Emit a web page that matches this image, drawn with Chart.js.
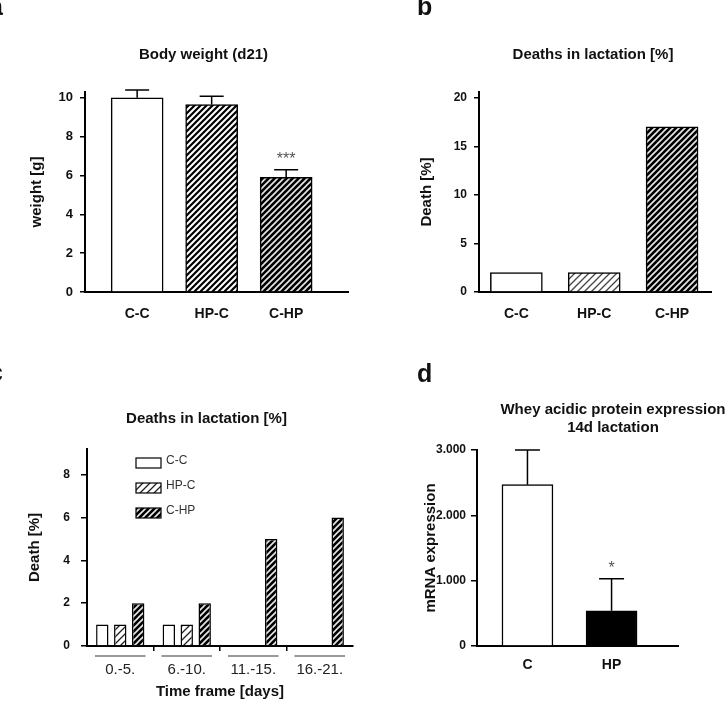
<!DOCTYPE html>
<html lang="en">
<head>
<meta charset="UTF-8">
<title>Body weight, deaths in lactation and WAP expression</title>
<script src="https://cdn.jsdelivr.net/npm/chart.js"></script>
<style>
  html, body { margin: 0; padding: 0; background: #fff; overflow: hidden; }
  body { width: 727px; height: 707px; position: relative; font-family: "Liberation Sans", Arial, sans-serif; }
  .panel { position: absolute; }
  .letter { position: absolute; font-weight: bold; font-size: 25px; line-height: 25px; color: #111; z-index: 2; }
</style>
</head>
<body>
<div class="letter" style="left:-11px; top:-6px;">a</div>
<div class="letter" style="left:417px; top:-6px;">b</div>
<div class="letter" style="left:-11px; top:360px;">c</div>
<div class="letter" style="left:417px; top:361px;">d</div>

<div class="panel" style="left:0; top:0; width:407px; height:350px;"><canvas id="chartA"></canvas></div>
<div class="panel" style="left:393px; top:0; width:400px; height:350px;"><canvas id="chartB"></canvas></div>
<div class="panel" style="left:0; top:360px; width:413px; height:347px;"><canvas id="chartC"></canvas></div>
<div class="panel" style="left:413px; top:360px; width:400px; height:347px;"><canvas id="chartD"></canvas></div>

<script>
// a: body weight at d21
const groups = ['C-C', 'HP-C', 'C-HP'];
const weightMean = [10.0, 9.65, 5.9];
const weightSem = [0.4, 0.43, 0.4];
const weightStars = ['', '', '***'];

// b: total deaths in lactation
const deathTotal = [2, 2, 17];

// c: deaths per time frame
const timeFrames = ['0.-5.', '6.-10.', '11.-15.', '16.-21.'];
const deathCC = [1, 1, 0, 0];
const deathHPC = [1, 1, 0, 0];
const deathCHP = [2, 2, 5, 6];

// d: whey acidic protein expression, 14d lactation
const wapGroups = ['C', 'HP'];
const wapMean = [2470, 540];
const wapSem = [530, 490];
const wapStars = ['', '*'];

Chart.defaults.font.family = '"Liberation Sans", Arial, sans-serif';
Chart.defaults.color = '#111';

function stripes(bg, fg, size, width) {
    const c = document.createElement('canvas');
    c.width = size; c.height = size;
    const g = c.getContext('2d');
    g.fillStyle = bg;
    g.fillRect(0, 0, size, size);
    g.strokeStyle = fg;
    g.lineWidth = width;
    g.beginPath();
    g.moveTo(0, size); g.lineTo(size, 0);
    g.moveTo(-size / 2, size / 2); g.lineTo(size / 2, -size / 2);
    g.moveTo(size / 2, size * 1.5); g.lineTo(size * 1.5, size / 2);
    g.stroke();
    return g.createPattern(c, 'repeat');
}

// upper error bars + significance stars
const errorBars = {
    id: 'errorBars',
    afterDatasetsDraw(chart, args, opts) {
        if (!opts.sem) return;
        const ctx = chart.ctx;
        const y = chart.scales.y;
        const data = chart.data.datasets[0].data;
        ctx.save();
        chart.getDatasetMeta(0).data.forEach((bar, i) => {
            const top = y.getPixelForValue(data[i].y + opts.sem[i]);
            ctx.strokeStyle = '#000';
            ctx.lineWidth = 1.5;
            ctx.beginPath();
            ctx.moveTo(bar.x, bar.y);
            ctx.lineTo(bar.x, top);
            ctx.moveTo(bar.x - opts.cap / 2, top);
            ctx.lineTo(bar.x + opts.cap / 2, top);
            ctx.stroke();
            if (opts.stars && opts.stars[i]) {
                ctx.fillStyle = '#555';
                ctx.font = '16px "Liberation Sans", Arial, sans-serif';
                ctx.textAlign = 'center';
                ctx.textBaseline = 'alphabetic';
                ctx.fillText(opts.stars[i], bar.x, top - 6);
            }
        });
        ctx.restore();
    }
};

// underlines below the time frame labels and the little legend in panel c
const groupMarks = {
    id: 'groupMarks',
    afterDraw(chart) {
        const { ctx, chartArea } = chart;
        const x = chart.scales.x;
        ctx.save();
        ctx.strokeStyle = '#777';
        ctx.lineWidth = 1.5;
        const half = x.width / x.ticks.length * 0.38;
        x.ticks.forEach((t, i) => {
            const cx = x.getPixelForTick(i);
            ctx.beginPath();
            ctx.moveTo(cx - half, x.top + 10);
            ctx.lineTo(cx + half, x.top + 10);
            ctx.stroke();
        });
        chart.data.datasets.forEach((ds, i) => {
            const bx = chartArea.left + 49;
            const by = chartArea.top + 9 + i * 25;
            ctx.fillStyle = ds.backgroundColor;
            ctx.fillRect(bx, by, 25, 10);
            ctx.strokeStyle = '#000';
            ctx.lineWidth = 1.2;
            ctx.strokeRect(bx, by, 25, 10);
            ctx.fillStyle = '#333';
            ctx.font = '12px "Liberation Sans", Arial, sans-serif';
            ctx.textAlign = 'left';
            ctx.textBaseline = 'middle';
            ctx.fillText(ds.label, bx + 30, by + 3);
        });
        ctx.restore();
    }
};

function yAxis(o) {
    const ax = {
        min: 0, max: o.max,
        afterFit: s => { s.width = o.width; },
        border: { display: true, color: '#000', width: 2 },
        grid: { drawOnChartArea: false, drawTicks: true, tickLength: o.tick, color: '#000', lineWidth: 1.5 },
        ticks: { stepSize: o.step, includeBounds: false, padding: o.pad, color: '#111', font: { size: o.size || 12, weight: 'bold' } },
        title: { display: true, text: o.title, color: '#111', font: { size: 15, weight: 'bold' }, padding: { top: o.titlePad, bottom: 0 } }
    };
    if (o.fmt) ax.ticks.callback = o.fmt;
    return ax;
}

// empty right-hand axis, only reserves room so the title centres where it should
function spacer(width) {
    return {
        position: 'right', display: true,
        afterFit: s => { s.width = width; },
        border: { display: false },
        grid: { display: false, drawTicks: false },
        ticks: { display: false }
    };
}

function xGroups(labels, min, max, height, pad) {
    return {
        type: 'linear', offset: false, min: min, max: max,
        afterFit: s => { s.height = height; },
        border: { display: true, color: '#000', width: 2 },
        grid: { display: false, drawTicks: false },
        ticks: {
            stepSize: 1, includeBounds: false, autoSkip: false, maxRotation: 0, padding: pad,
            color: '#111', font: { size: 14, weight: 'bold' },
            callback: v => labels[v - 1] ?? ''
        }
    };
}

function titleOpts(text, top, bottom) {
    return { display: true, text: text, color: '#111', font: { size: 15, weight: 'bold' }, padding: { top: top, bottom: bottom } };
}

const asPoints = vals => vals.map((v, i) => ({ x: i + 1, y: v }));

// panel a
new Chart(document.getElementById('chartA'), {
    type: 'bar',
    data: {
        datasets: [{
            data: asPoints(weightMean),
            backgroundColor: ['#fff', stripes('#fff', '#000', 6, 2.2), stripes('#000', '#e8e8e8', 6, 1.6)],
            borderColor: '#000',
            borderWidth: 1.5,
            barThickness: 52
        }]
    },
    options: {
        responsive: true, maintainAspectRatio: false, animation: false,
        layout: { padding: 0 },
        plugins: {
            legend: { display: false },
            tooltip: { enabled: false },
            title: titleOpts('Body weight (d21)', 46, 28),
            errorBars: { sem: weightSem, stars: weightStars, cap: 24 }
        },
        scales: {
            x: xGroups(groups, 0.3, 3.83, 58, 14),
            y: yAxis({ max: 10.3, step: 2, width: 85, tick: 5, pad: 7, size: 13, title: 'weight [g]', titlePad: 28 }),
            yr: spacer(59)
        }
    },
    plugins: [errorBars]
});

// panel b
new Chart(document.getElementById('chartB'), {
    type: 'bar',
    data: {
        datasets: [{
            data: asPoints(deathTotal),
            backgroundColor: ['#fff', stripes('#fff', '#444', 7, 1.3), stripes('#000', '#e8e8e8', 6, 1.6)],
            borderColor: '#000',
            borderWidth: 1.5,
            barThickness: 52
        }]
    },
    options: {
        responsive: true, maintainAspectRatio: false, animation: false,
        layout: { padding: 0 },
        plugins: {
            legend: { display: false },
            tooltip: { enabled: false },
            title: titleOpts('Deaths in lactation [%]', 46, 28)
        },
        scales: {
            x: xGroups(groups, 0.52, 3.5, 58, 14),
            y: yAxis({ max: 20.6, step: 5, width: 86, tick: 5, pad: 7, title: 'Death [%]', titlePad: 25 }),
            yr: spacer(82)
        }
    }
});

// panel c
const patHPC = stripes('#fff', '#222', 7, 1.3);
const patCHP = stripes('#000', '#e8e8e8', 6, 1.6);
new Chart(document.getElementById('chartC'), {
    type: 'bar',
    data: {
        labels: timeFrames,
        datasets: [
            { label: 'C-C', data: deathCC, backgroundColor: '#fff' },
            { label: 'HP-C', data: deathHPC, backgroundColor: patHPC },
            { label: 'C-HP', data: deathCHP, backgroundColor: patCHP }
        ].map(d => Object.assign(d, { borderColor: '#000', borderWidth: 1.5, categoryPercentage: 0.81, barPercentage: 0.69 }))
    },
    options: {
        responsive: true, maintainAspectRatio: false, animation: false,
        layout: { padding: 0 },
        plugins: {
            legend: { display: false },
            tooltip: { enabled: false },
            title: titleOpts('Deaths in lactation [%]', 50, 21)
        },
        scales: {
            x: {
                type: 'category', offset: true,
                afterFit: s => { s.height = 61; },
                border: { display: true, color: '#000', width: 2 },
                grid: {
                    offset: true, drawOnChartArea: false, drawTicks: true, tickLength: 5, lineWidth: 1.5,
                    color: c => (c.index > 0 && c.index < timeFrames.length) ? '#000' : 'rgba(0,0,0,0)'
                },
                ticks: { padding: 10, color: '#222', font: { size: 15, weight: 'normal' }, maxRotation: 0, autoSkip: false },
                title: { display: true, text: 'Time frame [days]', color: '#111', font: { size: 15, weight: 'bold' }, padding: { top: 0, bottom: 6 } }
            },
            y: yAxis({ max: 9.2, step: 2, width: 87, tick: 6, pad: 11, title: 'Death [%]', titlePad: 26 }),
            yr: spacer(60)
        }
    },
    plugins: [groupMarks]
});

// panel d
new Chart(document.getElementById('chartD'), {
    type: 'bar',
    data: {
        datasets: [{
            data: asPoints(wapMean),
            backgroundColor: ['#fff', '#000'],
            borderColor: '#000',
            borderWidth: 1.5,
            barThickness: 51
        }]
    },
    options: {
        responsive: true, maintainAspectRatio: false, animation: false,
        layout: { padding: 0 },
        plugins: {
            legend: { display: false },
            tooltip: { enabled: false },
            title: titleOpts(['Whey acidic protein expression', '14d lactation'], 41, 13),
            errorBars: { sem: wapSem, stars: wapStars, cap: 25 }
        },
        scales: {
            x: xGroups(wapGroups, 0.4, 2.79, 61, 11),
            y: yAxis({
                max: 3000, step: 1000, width: 64, tick: 6, pad: 5, title: 'mRNA expression', titlePad: 9,
                fmt: v => String(v).replace(/\B(?=(\d{3})+(?!\d))/g, '.')
            }),
            yr: spacer(135)
        }
    },
    plugins: [errorBars]
});
</script>
</body>
</html>
